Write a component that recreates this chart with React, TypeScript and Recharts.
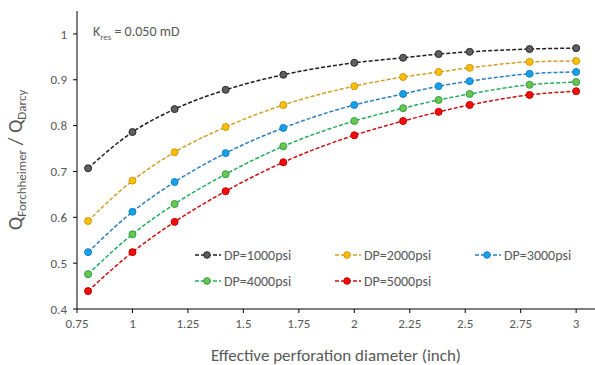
import React from "react";
import { LineChart, Line, XAxis, YAxis, Legend } from "recharts";

// effective perforation diameter (inch)
const diameters = [0.8, 1.0, 1.19, 1.42, 1.68, 2.0, 2.22, 2.38, 2.52, 2.79, 3.0];

// Q_Forchheimer / Q_Darcy per pressure drop
const dp1000 = [0.707, 0.786, 0.836, 0.878, 0.911, 0.937, 0.948, 0.956, 0.961, 0.967, 0.969];
const dp2000 = [0.592, 0.68, 0.742, 0.797, 0.845, 0.886, 0.906, 0.917, 0.926, 0.939, 0.941];
const dp3000 = [0.524, 0.612, 0.677, 0.74, 0.795, 0.845, 0.869, 0.886, 0.897, 0.913, 0.917];
const dp4000 = [0.476, 0.563, 0.629, 0.694, 0.755, 0.81, 0.838, 0.856, 0.869, 0.889, 0.895];
const dp5000 = [0.439, 0.524, 0.59, 0.657, 0.72, 0.779, 0.81, 0.83, 0.845, 0.867, 0.875];

const xTicks = [0.75, 1, 1.25, 1.5, 1.75, 2, 2.25, 2.5, 2.75, 3];
const yTicks = [0.4, 0.5, 0.6, 0.7, 0.8, 0.9, 1];
const xMinor = Array.from({ length: 47 }, (_, i) => +(0.75 + i * 0.05).toFixed(2));
const yMinor = Array.from({ length: 33 }, (_, i) => +(0.4 + i * 0.02).toFixed(2));

const X_DOMAIN: [number, number] = [0.75, 3.085];
const Y_DOMAIN: [number, number] = [0.4, 1.05];

const series = [
  { key: "dp1000", name: "DP=1000psi", line: "#1f1f1f", fill: "#5f5f5f", edge: "#2a2a2a" },
  { key: "dp2000", name: "DP=2000psi", line: "#cfa025", fill: "#ffbf00", edge: "#c99a18" },
  { key: "dp3000", name: "DP=3000psi", line: "#2a7fc0", fill: "#12a3e8", edge: "#1f7fc0" },
  { key: "dp4000", name: "DP=4000psi", line: "#25ad5a", fill: "#6cc64e", edge: "#2f9e48" },
  { key: "dp5000", name: "DP=5000psi", line: "#cc1010", fill: "#f20d0d", edge: "#c00000" },
];

const data = diameters.map((d, i) => ({
  d,
  dp1000: dp1000[i],
  dp2000: dp2000[i],
  dp3000: dp3000[i],
  dp4000: dp4000[i],
  dp5000: dp5000[i],
}));

const FONT = "Carlito, 'Open Sans', 'Liberation Sans', sans-serif";
const GREY = "#595959";

function LegendBox() {
  return (
    <div
      style={{
        display: "grid",
        gridTemplateColumns: "140px 140px 140px",
        rowGap: 8,
        fontFamily: FONT,
        fontSize: 14,
        color: GREY,
      }}
    >
      {series.map((s) => (
        <div key={s.key} style={{ display: "flex", alignItems: "center", height: 18 }}>
          <svg width={28} height={10} style={{ marginRight: 2 }}>
            <line x1={1} y1={5} x2={27} y2={5} stroke={s.line} strokeWidth={1.5} strokeDasharray="4 2" />
            <circle cx={13} cy={5} r={3.3} fill={s.fill} stroke={s.edge} strokeWidth={1} />
          </svg>
          <span>{s.name}</span>
        </div>
      ))}
    </div>
  );
}

function YTitle(props: any) {
  const vb = props.viewBox || {};
  const cy = vb.y + vb.height / 2;
  const cx = 22;
  return (
    <text
      transform={`translate(${cx},${cy}) rotate(-90)`}
      textAnchor="middle"
      fill={GREY}
      fontFamily={FONT}
      fontSize={20}
    >
      <tspan>Q</tspan>
      <tspan fontSize={13} dy={4}>Forchheimer</tspan>
      <tspan dy={-4}> / Q</tspan>
      <tspan fontSize={13} dy={4}>Darcy</tspan>
    </text>
  );
}

function XTitle(props: any) {
  const vb = props.viewBox || {};
  return (
    <text
      x={336}
      y={361}
      textAnchor="middle"
      fill={GREY}
      fontFamily={FONT}
      fontSize={17}
    >
      Effective perforation diameter (inch)
    </text>
  );
}

export default function App() {
  const tickStyle = { fill: GREY, fontSize: 13, fontFamily: FONT };
  return (
    <div style={{ position: "absolute", left: 0, top: 0, width: 595, height: 365, background: "#fff" }}>
      <LineChart width={595} height={365} data={data} margin={{ top: 11, right: 0, bottom: 26, left: 0 }}>
        <XAxis
          dataKey="d"
          type="number"
          domain={X_DOMAIN}
          ticks={xTicks}
          allowDataOverflow
          tickSize={4}
          tickMargin={6}
          height={30}
          stroke="#000"
          tick={tickStyle}
          label={<XTitle />}
        />
        <XAxis
          xAxisId="minor"
          type="number"
          domain={X_DOMAIN}
          ticks={xMinor}
          allowDataOverflow
          mirror
          tick={false}
          tickSize={3}
          axisLine={false}
          stroke="#000"
        />
        <XAxis
          xAxisId="top"
          orientation="top"
          type="number"
          domain={X_DOMAIN}
          allowDataOverflow
          height={0}
          tick={false}
          tickLine={false}
          axisLine={{ stroke: "#8a8a8a", strokeWidth: 1.5 }}
        />
        <YAxis
          type="number"
          domain={Y_DOMAIN}
          ticks={yTicks}
          allowDataOverflow
          width={77}
          tickSize={4}
          tickMargin={6}
          stroke="#000"
          tick={tickStyle}
          tickFormatter={(v) => `${v}`}
          label={<YTitle />}
        />
        <YAxis
          yAxisId="minor"
          type="number"
          domain={Y_DOMAIN}
          ticks={yMinor}
          allowDataOverflow
          mirror
          tick={false}
          tickSize={3}
          axisLine={false}
          stroke="#000"
        />
        {series.map((s) => (
          <Line
            key={s.key}
            dataKey={s.key}
            name={s.name}
            type="monotone"
            stroke={s.line}
            strokeWidth={1.5}
            strokeDasharray="4 2"
            dot={{ r: 3.5, fill: s.fill, stroke: s.edge, strokeWidth: 1, strokeDasharray: "none" }}
            isAnimationActive={false}
          />
        ))}
        <Legend
          layout="vertical"
          align="center"
          verticalAlign="middle"
          wrapperStyle={{ left: 194, top: 246, width: 420 }}
          content={() => <LegendBox />}
        />
      </LineChart>
      <div
        style={{
          position: "absolute",
          left: 93,
          top: 23,
          fontFamily: FONT,
          fontSize: 14,
          color: GREY,
          whiteSpace: "nowrap",
        }}
      >
        K<sub style={{ fontSize: 9 }}>res</sub> = 0.050 mD
      </div>
    </div>
  );
}
